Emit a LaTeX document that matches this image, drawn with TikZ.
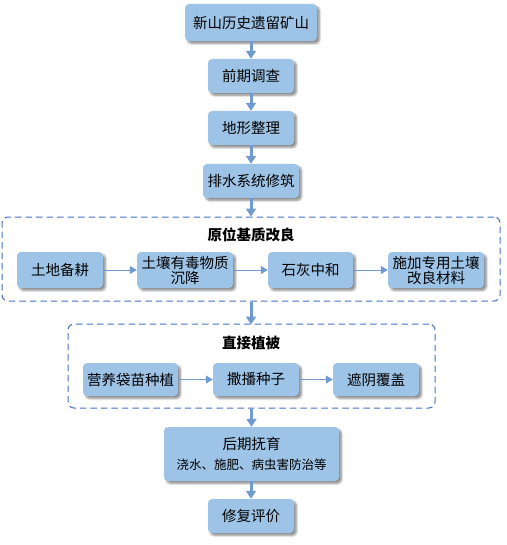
\documentclass[tikz,border=0pt]{standalone}
\usepackage{fontspec}
\newfontfamily\cjk{Noto Sans CJK SC}
\usetikzlibrary{arrows.meta,shadows.blur}
\definecolor{boxfill}{HTML}{9DC3E6}
\definecolor{arrowc}{HTML}{6F9BD1}
\definecolor{dashc}{HTML}{4472C4}
\begin{document}
\begin{tikzpicture}[x=1pt,y=-1pt,
  stepbox/.style={fill=boxfill, rounded corners=4pt, inner sep=0pt, align=center,
    font=\cjk\fontsize{14.5}{17}\selectfont,
    blur shadow={shadow xshift=2.5pt, shadow yshift=-2.5pt, shadow blur steps=6, shadow blur radius=2pt, shadow opacity=45}},
  groupbox/.style={draw=dashc, line width=1pt, dash pattern=on 6.5pt off 4pt, rounded corners=6pt, inner sep=0pt},
  grouptitle/.style={font=\cjk\bfseries\fontsize{14.5}{17}\selectfont},
  thick arrow/.style={draw=arrowc, line width=3pt, -{Triangle[length=8pt,width=10pt]}},
  thin arrow/.style={draw=arrowc, line width=1pt, -{Triangle[length=7pt,width=8pt]}}
]
\useasboundingbox (0,0) rectangle (506,545);
% top chain
\node[stepbox, minimum width=132pt, minimum height=37pt] (s1) at (251,22.5) {新山历史遗留矿山};
\node[stepbox, minimum width=86pt, minimum height=34pt] (s2) at (251,76) {前期调查};
\node[stepbox, minimum width=86pt, minimum height=34pt] (s3) at (251,128) {地形整理};
\node[stepbox, minimum width=96pt, minimum height=34pt] (s4) at (251,181) {排水系统修筑};
% group 1
\node[groupbox, minimum width=498pt, minimum height=84pt] (g1) at (251,259) {};
\node[grouptitle] (g1t) at (251,235) {原位基质改良};
\node[stepbox, minimum width=86pt, minimum height=36pt] (a1) at (60,270) {土地备耕};
\node[stepbox, minimum width=96pt, minimum height=36pt] (a2) at (185,270) {土壤有毒物质\\[-2pt]沉降};
\node[stepbox, minimum width=85pt, minimum height=36pt] (a3) at (310.5,270) {石灰中和};
\node[stepbox, minimum width=96pt, minimum height=36pt] (a4) at (436,270) {施加专用土壤\\[-2pt]改良材料};
% group 2
\node[groupbox, minimum width=367pt, minimum height=84pt] (g2) at (251.5,366) {};
\node[grouptitle] (g2t) at (251,343) {直接植被};
\node[stepbox, minimum width=95pt, minimum height=33pt] (b1) at (130.5,379.5) {营养袋苗种植};
\node[stepbox, minimum width=86pt, minimum height=33pt] (b2) at (256,379.5) {撒播种子};
\node[stepbox, minimum width=86pt, minimum height=33pt] (b3) at (376,379.5) {遮阴覆盖};
% bottom
\node[stepbox, minimum width=175pt, minimum height=54pt] (s5) at (251.5,454) {后期抚育\\[3pt]{\fontsize{12.5}{15}\selectfont 浇水、施肥、病虫害防治等}};
\node[stepbox, minimum width=86pt, minimum height=34pt] (s6) at (251,516) {修复评价};
% arrows
\draw[thick arrow] (s1.south) -- (s2.north);
\draw[thick arrow] (s2.south) -- (s3.north);
\draw[thick arrow] (s3.south) -- (s4.north);
\draw[thick arrow] (s4.south) -- (g1.north);
\draw[thick arrow] (g1.south -| g1t) -- ([yshift=-1pt]g2.north -| g1t);
\draw[thick arrow] (g2.south -| s5) -- (s5.north);
\draw[thick arrow] (s5.south -| s6) -- (s6.north);
\draw[thin arrow] (a1) -- (a2);
\draw[thin arrow] (a2) -- (a3);
\draw[thin arrow] (a3) -- (a4);
\draw[thin arrow] (b1) -- (b2);
\draw[thin arrow] (b2) -- (b3);
\end{tikzpicture}
\end{document}
